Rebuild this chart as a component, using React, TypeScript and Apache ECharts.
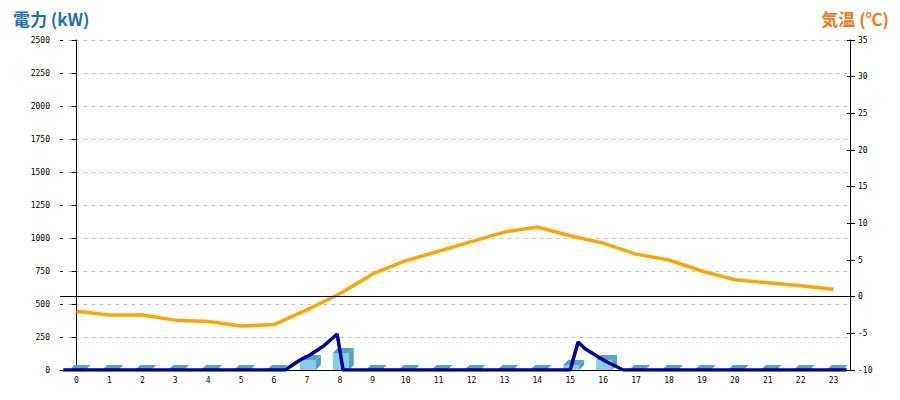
import React, { useEffect, useRef } from "react";
import * as echarts from "echarts";

const hours = ["0","1","2","3","4","5","6","7","8","9","10","11","12","13","14","15","16","17","18","19","20","21","22","23"];
const hourlyPower = [0, 0, 0, 0, 0, 0, 0, 76, 129, 0, 0, 0, 0, 0, 0, 38, 76, 0, 0, 0, 0, 0, 0, 0];
const temperature = [-2.0, -2.5, -2.5, -3.2, -3.4, -4.0, -3.8, -1.8, 0.4, 3.1, 4.9, 6.2, 7.5, 8.8, 9.5, 8.3, 7.3, 5.8, 5.0, 3.5, 2.3, 1.9, 1.5, 1.0];
// instantaneous power trace: [hour position, kW]
const powerTrace: [number, number][] = [
  [-0.4, 0], [6.34, 0], [6.79, 76], [7.09, 114], [7.5, 180], [7.92, 273], [8.1, 0],
  [15.0, 0], [15.24, 212], [15.46, 159], [15.76, 114], [16.06, 68], [16.37, 30], [16.61, 0], [23.4, 0],
];
const leftTitle = "電力 (kW)";
const rightTitle = "気温 (℃)";

const labelFont = "DejaVu Sans Mono";

export default function App() {
  const ref = useRef<HTMLDivElement>(null);
  useEffect(() => {
    const chart = echarts.init(ref.current!, null, { renderer: "svg" });
    const barData = hourlyPower.map((v, i) => [i, v]);
    const plain = (v: number) => String(v);
    chart.setOption({
      animation: false,
      backgroundColor: "#ffffff",
      title: [
        {
          text: leftTitle,
          left: 8,
          top: 5,
          textStyle: { color: "#1c6fb6", fontSize: 17, fontWeight: "bold", fontFamily: "Noto Sans CJK JP" },
        },
        {
          text: rightTitle,
          right: 6,
          top: 5,
          textStyle: { color: "#ee7a22", fontSize: 17, fontWeight: "bold", fontFamily: "Noto Sans CJK JP" },
        },
      ],
      grid: { left: 60, right: 50, top: 40, bottom: 30, containLabel: false },
      xAxis: [
        {
          type: "category",
          data: hours,
          boundaryGap: true,
          axisLine: { lineStyle: { color: "#000", width: 1 } },
          axisTick: { show: false },
          axisLabel: { color: "#000", fontSize: 8, fontFamily: labelFont, margin: 6 },
          splitLine: { show: false },
        },
        {
          type: "value",
          min: -0.5,
          max: 23.5,
          show: false,
          splitLine: { show: false },
        },
      ],
      yAxis: [
        {
          type: "value",
          min: 0,
          max: 2500,
          interval: 250,
          position: "left",
          axisLine: { show: true, lineStyle: { color: "#000", width: 1 } },
          axisTick: { show: true, length: 5, lineStyle: { color: "#000" } },
          axisLabel: { color: "#000", fontSize: 8, fontFamily: labelFont, margin: 10, formatter: plain },
          splitLine: { show: true, lineStyle: { color: "#bbbbbb", type: [3, 5], width: 1 } },
        },
        {
          type: "value",
          min: -10,
          max: 35,
          interval: 5,
          position: "right",
          axisLine: { show: true, lineStyle: { color: "#000", width: 1 } },
          axisTick: { show: true, length: 5, lineStyle: { color: "#000" } },
          axisLabel: { color: "#000", fontSize: 8, fontFamily: labelFont, margin: 8, formatter: plain },
          splitLine: { show: false },
        },
        {
          type: "value",
          min: 0,
          max: 2500,
          interval: 250,
          position: "left",
          axisLine: { show: false },
          axisTick: { show: true, inside: true, length: 3, lineStyle: { color: "#000" } },
          axisLabel: { show: false },
          splitLine: { show: false },
        },
        {
          type: "value",
          min: -10,
          max: 35,
          interval: 5,
          position: "right",
          axisLine: { show: false },
          axisTick: { show: true, inside: true, length: 3, lineStyle: { color: "#000" } },
          axisLabel: { show: false },
          splitLine: { show: false },
        },
      ],
      series: [
        {
          type: "custom",
          xAxisIndex: 0,
          yAxisIndex: 0,
          z: 2,
          data: barData,
          renderItem: (params: any, api: any) => {
            const idx = api.value(0);
            const v = api.value(1);
            const p = api.coord([idx, v]);
            const p0 = api.coord([idx, 0]);
            const w = 16;
            const d = 5;
            const x0 = p[0] - 7;
            const yt = p[1];
            const yb = p0[1];
            const children: any[] = [];
            if (yb - yt > 0.5) {
              children.push({
                type: "rect",
                shape: { x: x0, y: yt, width: w, height: yb - yt },
                style: { fill: "#87cdea" },
              });
              children.push({
                type: "polygon",
                shape: { points: [[x0 + w, yt], [x0 + w + d, yt - d], [x0 + w + d, yb - d], [x0 + w, yb]] },
                style: { fill: "#559fc0" },
              });
            }
            children.push({
              type: "polygon",
              shape: { points: [[x0, yt], [x0 + d, yt - d], [x0 + w + d, yt - d], [x0 + w, yt]] },
              style: { fill: "#5aa2c2" },
            });
            return { type: "group", children };
          },
        },
        {
          type: "line",
          xAxisIndex: 1,
          yAxisIndex: 0,
          z: 3,
          data: powerTrace,
          showSymbol: false,
          symbol: "none",
          lineStyle: { color: "#000099", width: 3.5 },
        },
        {
          type: "line",
          xAxisIndex: 0,
          yAxisIndex: 1,
          z: 4,
          data: temperature,
          showSymbol: false,
          symbol: "none",
          lineStyle: { color: "#ffa500", width: 3.5 },
          markLine: {
            silent: true,
            symbol: "none",
            label: { show: false },
            lineStyle: { color: "#000", type: "solid", width: 1 },
            data: [{ yAxis: 0 }],
          },
        },
      ],
    });
    return () => chart.dispose();
  }, []);
  return <div ref={ref} style={{ position: "fixed", left: 0, top: 0, width: 900, height: 400 }} />;
}
